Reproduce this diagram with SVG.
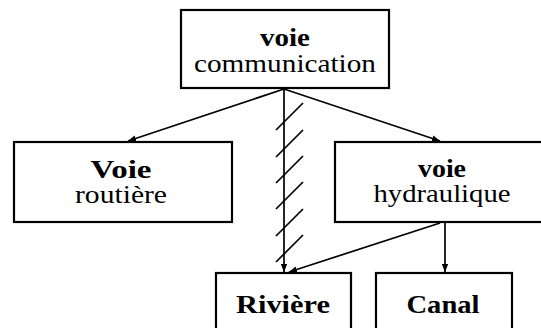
<svg xmlns="http://www.w3.org/2000/svg" width="541" height="328" viewBox="0 0 541 328">
<style>
.box{fill:#fff;stroke:#000;stroke-width:2.2}
.ln{fill:none;stroke:#000;stroke-width:1.7}
.b{font-family:"Liberation Serif","Times New Roman",serif;font-weight:bold;font-size:25px;text-anchor:middle;fill:#000}
.r{font-family:"Liberation Serif","Times New Roman",serif;font-size:25px;text-anchor:middle;fill:#000}
</style>
<defs>
<marker id="ah" viewBox="0 0 10 8" refX="10" refY="4" markerWidth="8" markerHeight="6.4" markerUnits="userSpaceOnUse" orient="auto">
<path d="M0,0 L10,4 L0,8 Z" fill="#000"/>
</marker>
</defs>
<g id="connectors">
<line class="ln" x1="284" y1="89" x2="128" y2="141" marker-end="url(#ah)"/>
<line class="ln" x1="284" y1="89" x2="440" y2="141" marker-end="url(#ah)"/>
<line class="ln" x1="284" y1="89" x2="284" y2="272" marker-end="url(#ah)"/>
<line class="ln" x1="440" y1="223" x2="289" y2="272" marker-end="url(#ah)"/>
<line class="ln" x1="445" y1="223" x2="445" y2="272" marker-end="url(#ah)"/>
<g id="hatches" class="ln">
<line x1="276" y1="130" x2="303" y2="103"/>
<line x1="276" y1="157" x2="303" y2="130"/>
<line x1="276" y1="183" x2="303" y2="156"/>
<line x1="276" y1="209" x2="303" y2="182"/>
<line x1="276" y1="236" x2="303" y2="209"/>
<line x1="276" y1="262" x2="303" y2="235"/>
</g>
</g>
<g id="n_communication">
<rect class="box" x="181" y="10" width="208" height="78"/>
<text class="b" x="285" y="46" textLength="50" lengthAdjust="spacingAndGlyphs">voie</text>
<text class="r" x="285" y="72" textLength="182" lengthAdjust="spacingAndGlyphs">communication</text>
</g>
<g id="n_routiere">
<rect class="box" x="14" y="142" width="218" height="80"/>
<text class="b" x="121" y="178" textLength="61" lengthAdjust="spacingAndGlyphs">Voie</text>
<text class="r" x="121" y="203" textLength="92" lengthAdjust="spacingAndGlyphs">routière</text>
</g>
<g id="n_hydraulique">
<rect class="box" x="335" y="142" width="215" height="80"/>
<text class="b" x="442" y="177" textLength="48" lengthAdjust="spacingAndGlyphs">voie</text>
<text class="r" x="442" y="202" textLength="137" lengthAdjust="spacingAndGlyphs">hydraulique</text>
</g>
<g id="n_riviere">
<rect class="box" x="216" y="273" width="135" height="70"/>
<text class="b" x="283" y="313" textLength="94" lengthAdjust="spacingAndGlyphs">Rivière</text>
</g>
<g id="n_canal">
<rect class="box" x="376" y="273" width="136" height="70"/>
<text class="b" x="443" y="313" textLength="73" lengthAdjust="spacingAndGlyphs">Canal</text>
</g>
</svg>
